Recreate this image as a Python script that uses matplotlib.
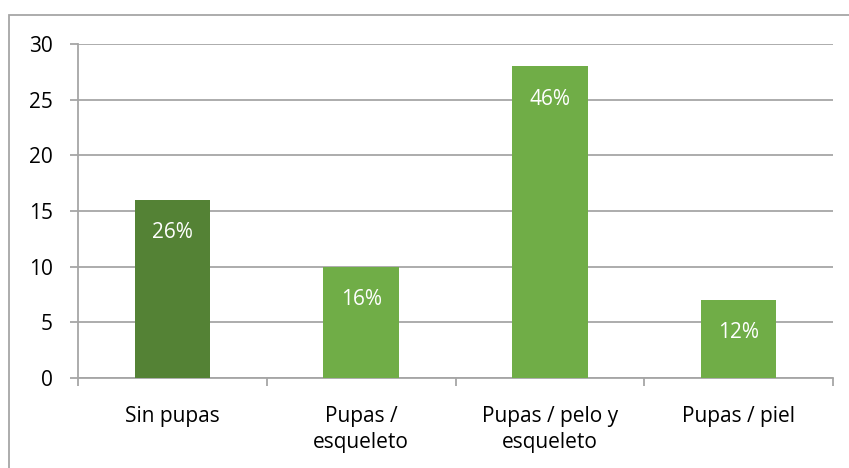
import matplotlib.pyplot as plt
from matplotlib.patches import Rectangle

categories = ['Sin pupas', 'Pupas /\nesqueleto', 'Pupas / pelo y\nesqueleto', 'Pupas / piel']
values = [16, 10, 28, 7]
pct_labels = ['26%', '16%', '46%', '12%']
colors = ['#548235', '#70AD47', '#70AD47', '#70AD47']

plt.rcParams['font.family'] = ['Open Sans', 'DejaVu Sans']

fig = plt.figure(figsize=(8.49, 4.68), dpi=100)
# outer chart border (cropped on right and bottom)
fig.patches.append(Rectangle((9 / 849, -0.1), 1.2, (468 - 15) / 468 + 0.1,
                             transform=fig.transFigure, fill=False,
                             edgecolor='#A6A6A6', linewidth=1.3))

ax = fig.add_axes([78 / 849, 1 - 378 / 468, (833 - 78) / 849, (378 - 44) / 468])
x = range(len(categories))
ax.bar(x, values, width=0.4, color=colors, zorder=3)
for i, (v, lab) in enumerate(zip(values, pct_labels)):
    ax.text(i, v - 2.95, lab, ha='center', va='center', color='white', fontsize=15, zorder=4)

ax.set_xlim(-0.5, len(categories) - 0.5)
ax.set_ylim(0, 30)
ax.set_yticks(range(0, 31, 5))
ax.yaxis.grid(True, color='#A6A6A6', linewidth=1.3, zorder=0)
ax.set_xticks(x)
ax.set_xticklabels(categories, fontsize=15, linespacing=1.35)
ax.set_xticks([i - 0.5 for i in range(len(categories) + 1)], minor=True)
ax.tick_params(axis='x', which='major', length=0, pad=20)
ax.tick_params(axis='x', which='minor', length=6, color='#A6A6A6', width=1.3, direction='out')
ax.tick_params(axis='y', length=6, color='#A6A6A6', width=1.3, labelsize=15, pad=12)

for s in ['top', 'right']:
    ax.spines[s].set_visible(False)
for s in ['left', 'bottom']:
    ax.spines[s].set_color('#A6A6A6')
    ax.spines[s].set_linewidth(1.3)

fig.savefig('out.png', dpi=100)
